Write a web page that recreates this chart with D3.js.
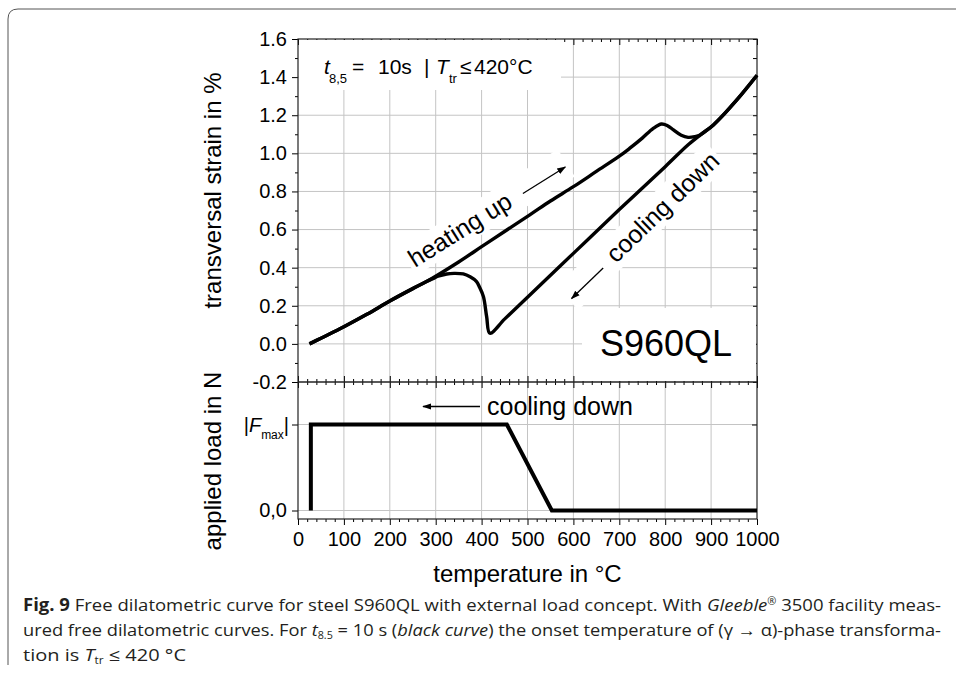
<!DOCTYPE html>
<html>
<head>
<meta charset="utf-8">
<style>
  body { margin: 0; background: #fff; }
  svg text { font-family: "Liberation Sans", Arial, sans-serif; fill: #000; }
  .cap text { font-family: "Open Sans", "Noto Sans", sans-serif; fill: #231f20; }
</style>
</head>
<body>
<svg id="chart" width="956" height="675"></svg>
<script src="https://d3js.org/d3.v7.min.js"></script>
<script>
// heating branch, temperature in °C / strain in %
const heatT = [25, 50, 100, 150, 200, 250, 280, 350, 400, 450, 505, 550, 600, 650, 700, 723, 750, 774, 792, 805, 818, 835, 850, 865, 876, 890, 905, 930, 956, 980, 1000]
const heatS = [0.0, 0.03, 0.09, 0.155, 0.225, 0.29, 0.327, 0.43, 0.51, 0.59, 0.677, 0.75, 0.825, 0.905, 0.985, 1.027, 1.08, 1.131, 1.154, 1.145, 1.123, 1.095, 1.084, 1.088, 1.096, 1.12, 1.149, 1.21, 1.28, 1.35, 1.41]
// cooling branch
const coolT = [1000, 956, 905, 876, 850, 800, 700, 600, 500, 450, 418, 411, 404, 395, 389, 375, 360, 340, 324, 305, 295, 280, 250, 200, 150, 100, 50, 25]
const coolS = [1.41, 1.28, 1.149, 1.096, 1.045, 0.93, 0.705, 0.475, 0.245, 0.13, 0.056, 0.143, 0.248, 0.30, 0.327, 0.352, 0.367, 0.37, 0.367, 0.355, 0.344, 0.327, 0.29, 0.225, 0.155, 0.09, 0.03, 0.0]
// applied load (fraction of |Fmax|)
const loadT = [28, 28, 455, 553, 1000]
const loadF = [0, 1, 1, 0, 0]

const tempTicks = [0, 100, 200, 300, 400, 500, 600, 700, 800, 900, 1000]
const strainTicks = [-0.2, 0.0, 0.2, 0.4, 0.6, 0.8, 1.0, 1.2, 1.4, 1.6]
const loadTicks = [0, 1]

const svg = d3.select('#chart')
const x = d3.scaleLinear().domain([0, 1000]).range([298, 757])
const yS = d3.scaleLinear().domain([-0.2, 1.6]).range([382, 39])
const yF = d3.scaleLinear().domain([0, 1]).range([510.5, 424.5])
const yMid = yS(-0.2), yBottom = 519

const tMinor = d3.range(0, 1001, 20).filter(d => d % 100 !== 0)
const sMinor = d3.range(-1, 16, 2).map(d => d / 10)

// frame around figure + caption
svg.append('path')
  .attr('d', 'M8,665 L8,19 Q8,9 18,9 L956,9')
  .attr('fill', 'none').attr('stroke', '#555').attr('stroke-width', 1)

// grid
const grid = svg.append('g').attr('stroke', '#c4c4c4').attr('stroke-width', 1)
tempTicks.slice(1, -1).forEach(t => {
  grid.append('line').attr('x1', x(t)).attr('x2', x(t)).attr('y1', yS(1.6)).attr('y2', yBottom)
})
strainTicks.slice(1, -1).forEach(s => {
  grid.append('line').attr('x1', x(0)).attr('x2', x(1000)).attr('y1', yS(s)).attr('y2', yS(s))
})
loadTicks.forEach(f => {
  grid.append('line').attr('x1', x(0)).attr('x2', x(1000)).attr('y1', yF(f)).attr('y2', yF(f))
})

function styleAxis(g, size) {
  g.select('.domain').remove()
  g.attr('font-size', size || 20).attr('font-family', '"Liberation Sans", Arial, sans-serif')
  return g
}

// top panel axes
styleAxis(svg.append('g').attr('transform', `translate(${x(0)},0)`)
  .call(d3.axisLeft(yS).tickValues(strainTicks).tickSize(6).tickPadding(5).tickFormat(d => d.toFixed(1))))
styleAxis(svg.append('g').attr('transform', `translate(${x(0)},0)`)
  .call(d3.axisLeft(yS).tickValues(sMinor).tickSize(3).tickFormat('')))
styleAxis(svg.append('g').attr('transform', `translate(${x(1000)},0)`)
  .call(d3.axisRight(yS).tickValues(strainTicks.concat(sMinor)).tickSize(-4).tickFormat('')))
styleAxis(svg.append('g').attr('transform', `translate(0,${yS(1.6)})`)
  .call(d3.axisTop(x).tickValues(tempTicks).tickSize(-6).tickFormat('')))
styleAxis(svg.append('g').attr('transform', `translate(0,${yS(1.6)})`)
  .call(d3.axisTop(x).tickValues(tMinor).tickSize(-3).tickFormat('')))
// shared middle line: ticks both ways
styleAxis(svg.append('g').attr('transform', `translate(0,${yMid})`)
  .call(d3.axisBottom(x).tickValues(tempTicks).tickSize(-6).tickFormat('')))
styleAxis(svg.append('g').attr('transform', `translate(0,${yMid})`)
  .call(d3.axisBottom(x).tickValues(tMinor).tickSize(-3).tickFormat('')))
styleAxis(svg.append('g').attr('transform', `translate(0,${yMid})`)
  .call(d3.axisTop(x).tickValues(tempTicks).tickSize(-6).tickFormat('')))
styleAxis(svg.append('g').attr('transform', `translate(0,${yMid})`)
  .call(d3.axisTop(x).tickValues(tMinor).tickSize(-3).tickFormat('')))

// bottom panel axes
styleAxis(svg.append('g').attr('transform', `translate(0,${yBottom})`)
  .call(d3.axisBottom(x).tickValues(tempTicks).tickSize(6).tickPadding(7).tickFormat(d => String(d))))
styleAxis(svg.append('g').attr('transform', `translate(0,${yBottom})`)
  .call(d3.axisBottom(x).tickValues(tMinor).tickSize(3).tickFormat('')))
styleAxis(svg.append('g').attr('transform', `translate(${x(0)},0)`)
  .call(d3.axisLeft(yF).tickValues(loadTicks).tickSize(6).tickPadding(5).tickFormat(d => d === 0 ? '0,0' : '')))
styleAxis(svg.append('g').attr('transform', `translate(${x(1000)},0)`)
  .call(d3.axisRight(yF).tickValues(loadTicks).tickSize(-5).tickFormat('')))

const fmax = svg.append('text').attr('x', x(0) - 9).attr('y', yF(1) + 7)
  .attr('text-anchor', 'end').attr('font-size', 20)
fmax.append('tspan').text('|')
fmax.append('tspan').attr('font-style', 'italic').text('F')
fmax.append('tspan').attr('font-size', 12).attr('dy', 7).text('max')
fmax.append('tspan').attr('dy', -7).text('|')

// frames
svg.append('rect').attr('x', x(0)).attr('y', yS(1.6)).attr('width', x(1000) - x(0)).attr('height', yBottom - yS(1.6))
  .attr('fill', 'none').attr('stroke', '#222').attr('stroke-width', 1.2)
svg.append('line').attr('x1', x(0)).attr('x2', x(1000)).attr('y1', yMid).attr('y2', yMid)
  .attr('stroke', '#222').attr('stroke-width', 1.4)

// annotation boxes (white background hides the grid)
svg.append('rect').attr('x', x(0) + 1).attr('y', yS(1.6) + 1).attr('width', 262).attr('height', 50).attr('fill', '#fff')
svg.append('rect').attr('x', 582).attr('y', 308).attr('width', x(1000) - 583).attr('height', yMid - 309).attr('fill', '#fff')

const note = svg.append('text').attr('font-size', 21).attr('y', 74)
note.append('tspan').attr('x', 324).attr('font-style', 'italic').text('t')
note.append('tspan').attr('x', 329).attr('dy', 9).attr('font-size', 13).text('8,5')
note.append('tspan').attr('x', 352).attr('dy', -9).text('=')
note.append('tspan').attr('x', 378).text('10s')
note.append('tspan').attr('x', 424).text('|')
note.append('tspan').attr('x', 436).attr('font-style', 'italic').text('T')
note.append('tspan').attr('x', 449).attr('dy', 9).attr('font-size', 13).text('tr')
note.append('tspan').attr('x', 460).attr('dy', -9).text('≤')
note.append('tspan').attr('x', 474).text('420°C')

svg.append('text').attr('x', 600).attr('y', 356).attr('font-size', 36).text('S960QL')

svg.append('defs').append('marker').attr('id', 'ah').attr('viewBox', '0 0 10 10')
  .attr('refX', 9).attr('refY', 5).attr('markerWidth', 9).attr('markerHeight', 9)
  .attr('markerUnits', 'userSpaceOnUse').attr('orient', 'auto')
  .append('path').attr('d', 'M0,1.5 L10,5 L0,8.5 Z').attr('fill', '#000')

function label(tx, ty, angle, txt, a1, a2) {
  const g = svg.append('g').attr('transform', `translate(${tx},${ty}) rotate(${angle})`)
  const bg = g.append('rect').attr('fill', '#fff')
  g.append('text').attr('font-size', 25).text(txt)
  g.append('line').attr('x1', a1[0]).attr('y1', a1[1]).attr('x2', a2[0]).attr('y2', a2[1])
    .attr('stroke', '#000').attr('stroke-width', 1.3).attr('marker-end', 'url(#ah)')
  const b = g.node().getBBox()
  bg.attr('x', b.x - 3).attr('y', b.y - 2).attr('width', b.width + 6).attr('height', b.height + 4)
}
label(415, 268, -32, 'heating up', [131, -6], [181, -6])
label(616, 264, -44, 'cooling down', [-12, -6], [-56, -6])

// bottom panel label
svg.append('text').attr('x', 487).attr('y', 415).attr('font-size', 25).text('cooling down')
svg.append('line').attr('x1', 480).attr('x2', 423).attr('y1', 406.5).attr('y2', 406.5)
  .attr('stroke', '#000').attr('stroke-width', 1.3).attr('marker-end', 'url(#ah)')

// curves
const strainLine = d3.line().x(d => x(d[0])).y(d => yS(d[1])).curve(d3.curveCatmullRom.alpha(0.5))
svg.append('path').datum(heatT.map((t, i) => [t, heatS[i]])).attr('d', strainLine)
  .attr('fill', 'none').attr('stroke', '#000').attr('stroke-width', 3.4).attr('stroke-linejoin', 'round')
svg.append('path').datum(coolT.map((t, i) => [t, coolS[i]])).attr('d', strainLine)
  .attr('fill', 'none').attr('stroke', '#000').attr('stroke-width', 3.4).attr('stroke-linejoin', 'round')

const loadLine = d3.line().x(d => x(d[0])).y(d => yF(d[1]))
svg.append('path').datum(loadT.map((t, i) => [t, loadF[i]])).attr('d', loadLine)
  .attr('fill', 'none').attr('stroke', '#000').attr('stroke-width', 4)

// axis titles
svg.append('text').attr('transform', `translate(221,${(yS(1.6) + yMid) / 2 - 20}) rotate(-90)`)
  .attr('text-anchor', 'middle').attr('font-size', 24).text('transversal strain in %')
svg.append('text').attr('transform', `translate(221,461) rotate(-90)`)
  .attr('text-anchor', 'middle').attr('font-size', 24).text('applied load in N')
svg.append('text').attr('x', (x(0) + x(1000)) / 2).attr('y', 582)
  .attr('text-anchor', 'middle').attr('font-size', 24).text('temperature in °C')

// caption
const cap = svg.append('g').attr('class', 'cap').attr('font-size', 17)
const l1 = cap.append('text').attr('x', 23).attr('y', 611).attr('textLength', 918).attr('lengthAdjust', 'spacingAndGlyphs')
l1.append('tspan').attr('font-weight', 'bold').text('Fig. 9')
l1.append('tspan').text('  Free dilatometric curve for steel S960QL with external load concept. With ')
l1.append('tspan').attr('font-style', 'italic').text('Gleeble')
l1.append('tspan').attr('font-size', 10).attr('dy', -6).text('®')
l1.append('tspan').attr('dy', 6).text(' 3500 facility meas-')
const l2 = cap.append('text').attr('x', 23).attr('y', 636).attr('textLength', 918).attr('lengthAdjust', 'spacingAndGlyphs')
l2.append('tspan').text('ured free dilatometric curves. For ')
l2.append('tspan').attr('font-style', 'italic').text('t')
l2.append('tspan').attr('font-size', 10).attr('dy', 3).text('8.5')
l2.append('tspan').attr('dy', -3).text('  = 10 s (')
l2.append('tspan').attr('font-style', 'italic').text('black curve')
l2.append('tspan').text(') the onset temperature of (γ → α)-phase transforma-')
const l3 = cap.append('text').attr('x', 23).attr('y', 661).attr('textLength', 163).attr('lengthAdjust', 'spacingAndGlyphs')
l3.append('tspan').text('tion is ')
l3.append('tspan').attr('font-style', 'italic').text('T')
l3.append('tspan').attr('font-size', 10).attr('dy', 3).text('tr')
l3.append('tspan').attr('dy', -3).text(' ≤ 420 °C')
</script>
</body>
</html>
